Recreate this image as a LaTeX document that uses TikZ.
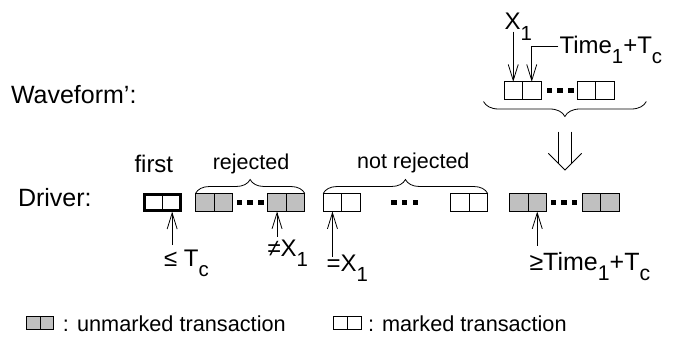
\documentclass[tikz,border=0pt]{standalone}
\usepackage{graphicx}
\usepackage{fontspec}
\setmainfont{Liberation Sans}
\usetikzlibrary{arrows.meta,calc,decorations.pathreplacing}
\definecolor{boxgray}{RGB}{192,192,192}
\newcommand\fs[1]{\fontsize{#1}{#1}\selectfont}
\newcommand\lo[1]{\raisebox{-0.42em}{\scalebox{0.85}{#1}}}
\newcommand\tdots[2]{\foreach \i in {0,1,2}{\fill ({#1-13.3+\i*10.7},{#2-2.5}) rectangle ++(5.4,5);}}
\begin{document}
\begin{tikzpicture}[x=1pt,y=-1pt,
  pair/.style={draw, line width=0.8pt, minimum width=37pt, minimum height=18pt,
    inner sep=0pt, outer sep=0pt,
    path picture={\draw[line width=0.8pt] (path picture bounding box.north) -- (path picture bounding box.south);}},
  unm/.style={pair, fill=boxgray},
  mrk/.style={pair, fill=white},
  firstbox/.style={pair, fill=white, line width=2.6pt, minimum width=36pt, minimum height=15.8pt, outer sep=1.3pt},
  lbl/.style={inner sep=0pt, outer sep=0pt, anchor=base west},
  clbl/.style={inner sep=0pt, outer sep=0pt, anchor=base},
  arr/.style={line width=0.8pt, -{Straight Barb[length=16pt,width=10pt]}},
  br/.style={line width=0.8pt, decorate, decoration={brace, amplitude=#1, aspect=0.5}},
]
\useasboundingbox (0,0) rectangle (673,337);

% row labels
\node[lbl, font=\fs{25}] (wf) at (11,103.3) {Waveform’:};
\node[lbl, font=\fs{25}] (dr) at (18,206.7) {Driver:};

% waveform boxes
\node[mrk] (tA) at (522.5,90.8) {};
\node[mrk] (tB) at (595.8,90.8) {};
\tdots{560}{91}
\draw[br=15pt] ($(tB.south east)+(32,1.7)$) -- ($(tA.south west)+(-20.5,1.7)$);

\node[lbl, font=\fs{24}] (x1) at (504.5,30) {X\lo{1}};
\node[lbl, font=\fs{24}] (tm) at (559.5,53.3) {Time\lo{1}+T\lo{c}};
\coordinate (tAL) at ($(tA.north)!0.5!(tA.north west)$);
\coordinate (tAR) at ($(tA.north)!0.5!(tA.north east)$);
\coordinate (x1T) at ($(x1.base)+(0,1.7)$);
\coordinate (tmT) at ($(tm.base west)+(-1.2,-6.6)$);
\draw[arr] (x1T -| tAL) -- (tAL);
\draw[arr] (tmT) -- (tmT -| tAR) -- (tAR);

% double arrow
\draw[line width=0.8pt] (558.3,131.7) -- (558.3,163.3);
\draw[line width=0.8pt] (571.7,131.7) -- (571.7,163.3);
\draw[line width=0.8pt] (548.3,153.3) -- (565,170) -- (581.7,153.3);

% driver boxes
\node[firstbox] (f) at (162.5,202.5) {};
\node[unm] (g1) at (214,202.5) {};
\node[unm] (g2) at (286.3,202.5) {};
\node[mrk] (w1) at (341.7,202.5) {};
\node[mrk] (w2) at (469.2,202.5) {};
\node[unm] (g3) at (528,202.5) {};
\node[unm] (g4) at (600.8,202.5) {};
\tdots{250}{202.3}
\tdots{404.5}{202.3}
\tdots{563.8}{202.3}

\node[lbl, font=\fs{24}] (fi) at (134.5,172.7) {first};
\draw[br=14pt] (g1.north west) -- (g2.north east);
\draw[br=14pt] (w1.north west) -- (w2.north east);
\node[clbl, font=\fs{21.5}] (rj) at (251,169) {rejected};
\node[clbl, font=\fs{21.5}] (nrj) at (413.3,168.3) {not rejected};

% annotations below
\node[lbl, font=\fs{24}] (le) at (164,266.7) {≤ T\lo{c}};
\node[lbl, font=\fs{24}] (ne) at (267.5,256.7) {≠X\lo{1}};
\node[lbl, font=\fs{24}] (eq) at (326.5,271.7) {=X\lo{1}};
\node[lbl, font=\fs{25}] (ge) at (529.5,270) {≥Time\lo{1}+T\lo{c}};

\coordinate (fR) at ($(f.south)!0.5!(f.south east)$);
\coordinate (g2L) at ($(g2.south)!0.5!(g2.south west)$);
\coordinate (w1L) at ($(w1.south)!0.5!(w1.south west)$);
\coordinate (g3R) at ($(g3.south)!0.5!(g3.south east)$);
\coordinate (leT) at ($(le.north)+(0,-5)$);
\coordinate (neT) at ($(ne.north)+(0,-3.5)$);
\coordinate (eqT) at ($(eq.north)+(0,1.5)$);
\coordinate (geT) at ($(ge.north)+(0,-6)$);
\draw[arr] (leT -| fR) -- (fR);
\draw[arr] (neT -| g2L) -- (g2L);
\draw[arr] (eqT -| w1L) -- (w1L);
\draw[arr] (geT -| g3R) -- (g3R);

% legend
\node[unm, minimum width=27pt, minimum height=13pt] (lg1) at (40,323.3) {};
\node[lbl, font=\fs{21.7}] (lt1) at (63,331) {: unmarked transaction};
\node[mrk, minimum width=28pt, minimum height=13pt] (lg2) at (347.5,323.3) {};
\node[lbl, font=\fs{21.7}] (lt2) at (368,331) {: marked transaction};
\end{tikzpicture}
\end{document}
